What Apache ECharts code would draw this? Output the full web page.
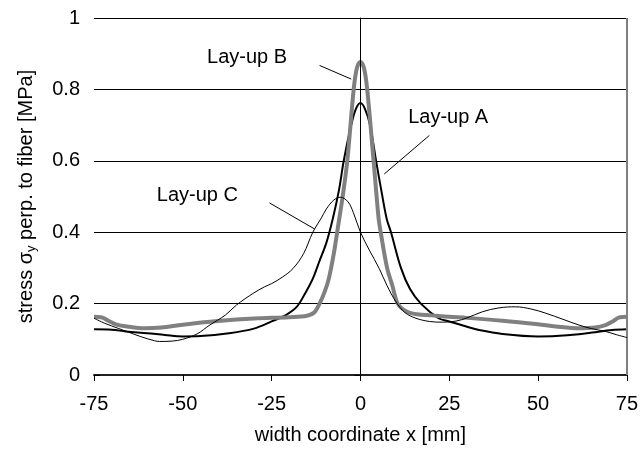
<!DOCTYPE html>
<html>
<head>
<meta charset="utf-8">
<script src="https://cdn.jsdelivr.net/npm/echarts@6/dist/echarts.min.js"></script>
<style>
html,body{margin:0;padding:0;background:#fff;}
#c{width:641px;height:450px;}
</style>
</head>
<body>
<div id="c"></div>
<script>
// ---- data (x in mm, stress in MPa) ----
var xA = [-75,-70,-66,-60,-55,-50,-45,-37,-30,-25,-21,-18,-15.5,-13.4,-11.5,-9.6,-7.8,-6,-4.7,-2.6,-1.3,0,1.3,2.7,4.4,6,7.4,8.6,11.4,14,17,22,25,30,33.4,40,50,55,61.5,66,70.8,75];
var yA = [0.128,0.127,0.122,0.117,0.112,0.108,0.109,0.117,0.13,0.15,0.168,0.19,0.23,0.27,0.32,0.37,0.437,0.52,0.6,0.7,0.745,0.762,0.745,0.7,0.6,0.51,0.437,0.4,0.3,0.24,0.2,0.159,0.15,0.135,0.126,0.115,0.108,0.109,0.114,0.12,0.126,0.128];

var xB = [-75,-73,-71,-68.6,-65,-61,-56,-50,-40,-30,-20,-15,-13,-11.5,-10,-8.9,-7.5,-6.4,-5,-3.7,-1.9,-1,0,1,1.9,3.7,5.1,5.7,7.5,9,10.5,13,16,20,25,30,40,50,55,61.5,66,69,71,73,75];
var yB = [0.163,0.162,0.152,0.141,0.135,0.131,0.133,0.141,0.151,0.158,0.162,0.166,0.175,0.2,0.235,0.27,0.34,0.41,0.5,0.6,0.8,0.86,0.877,0.86,0.8,0.6,0.44,0.4,0.3,0.25,0.2,0.178,0.17,0.167,0.163,0.16,0.152,0.142,0.136,0.131,0.133,0.14,0.15,0.162,0.163];

var xC = [-75,-72,-68,-65.8,-62,-58,-56.5,-53,-50,-46,-42.4,-38,-34.9,-30,-27,-25,-22,-19,-16,-13.4,-11,-9.6,-7.5,-5.6,-3.5,-2,0,2.5,5.3,7.5,10,12.5,15.6,19.4,23,26.9,30,34.3,39,43.7,48,52.2,57,61.5,65,69,72,75];
var yC = [0.159,0.145,0.13,0.122,0.108,0.096,0.094,0.095,0.1,0.115,0.14,0.168,0.196,0.23,0.247,0.256,0.274,0.298,0.34,0.4,0.44,0.465,0.49,0.498,0.485,0.455,0.4,0.35,0.298,0.25,0.205,0.175,0.159,0.15,0.148,0.151,0.16,0.177,0.188,0.191,0.185,0.173,0.156,0.14,0.13,0.122,0.113,0.105];

var xTicks = [-75, 75, 25];   // min, max, interval
var yTicks = [0, 1, 0.2];

// annotation labels and leader lines (data coordinates)
var annNames = ['Lay-up B', 'Lay-up A', 'Lay-up C'];
var annText  = [[-31.9, 0.889], [24.7, 0.721], [-45.9, 0.502]];
var annFrom  = [[-11.5, 0.867], [19.4, 0.671], [-25.6, 0.482]];
var annTo    = [[-2.6, 0.829], [6.7, 0.563], [-12.9, 0.409]];

function pairs(xs, ys){ return xs.map(function(x,i){ return [x, ys[i]]; }); }

var FONT = "'Liberation Sans', Arial, sans-serif";
var chart = echarts.init(document.getElementById('c'), null, {renderer:'canvas'});

var leaderData = annFrom.map(function(f,i){ return [{coord:f},{coord:annTo[i]}]; });
var textData = annText.map(function(t,i){ return {name:annNames[i], coord:t}; });

var option = {
  animation: false,
  backgroundColor: '#fff',
  textStyle: {fontFamily: FONT},
  grid: {left:94, right:13, top:18, bottom:73, show:false},
  xAxis: {
    type:'value', min:xTicks[0], max:xTicks[1], interval:xTicks[2],
    name:'width coordinate x [mm]', nameLocation:'middle', nameGap:50,
    nameTextStyle:{fontSize:20, color:'#000', fontFamily:FONT},
    axisLine:{show:true, onZero:false, lineStyle:{color:'#222', width:2}},
    axisTick:{show:true, inside:false, length:6, lineStyle:{color:'#000'}},
    axisLabel:{fontSize:20, color:'#000', margin:19, fontFamily:FONT},
    splitLine:{show:false}
  },
  yAxis: [{
    type:'value', min:yTicks[0], max:yTicks[1], interval:yTicks[2],
    name:'{n|stress σ}{s|y}{n| perp. to fiber [MPa]}', nameLocation:'middle', nameGap:56,
    nameTextStyle:{color:'#000', fontFamily:FONT,
      rich:{n:{fontSize:20, lineHeight:24, fontFamily:FONT, color:'#000'},
            s:{fontSize:13, lineHeight:13, verticalAlign:'bottom', fontFamily:FONT, color:'#000'}}},
    axisLine:{show:true, lineStyle:{color:'#000', width:1}},
    axisTick:{show:true, inside:false, length:6, lineStyle:{color:'#000'}},
    axisLabel:{fontSize:20, color:'#000', margin:14, fontFamily:FONT},
    splitLine:{show:true, lineStyle:{color:'#000', width:1}}
  },{
    type:'value', min:yTicks[0], max:yTicks[1], interval:yTicks[2], position:'left',
    axisLine:{show:false}, axisLabel:{show:false}, splitLine:{show:false},
    axisTick:{show:true, inside:true, length:6, lineStyle:{color:'#000'}}
  }],
  series: [
    {name:'Lay-up A', type:'line', data:pairs(xA,yA), smooth:0.35, showSymbol:false, symbol:'none',
     lineStyle:{color:'#000', width:2}, z:3,
     markLine:{silent:true, symbol:['none','none'], label:{show:false},
       lineStyle:{color:'#000', width:1, type:'solid'},
       data:[{xAxis:0}, {xAxis:xTicks[1], lineStyle:{color:'#808080', width:2}}]}},
    {name:'Lay-up B', type:'line', data:pairs(xB,yB), smooth:0.35, showSymbol:false, symbol:'none',
     lineStyle:{color:'#808080', width:4}, z:4},
    {name:'Lay-up C', type:'line', data:pairs(xC,yC), smooth:0.35, showSymbol:false, symbol:'none',
     lineStyle:{color:'#000', width:1}, z:5,
     markLine:{silent:true, symbol:['none','none'], label:{show:false},
       lineStyle:{color:'#000', width:1, type:'solid'}, data:leaderData},
     markPoint:{silent:true, symbol:'circle', symbolSize:0,
       label:{show:true, position:'inside', formatter:'{b}', fontSize:20, color:'#000', fontFamily:FONT},
       data:textData}}
  ]
};
chart.setOption(option);
</script>
</body>
</html>
